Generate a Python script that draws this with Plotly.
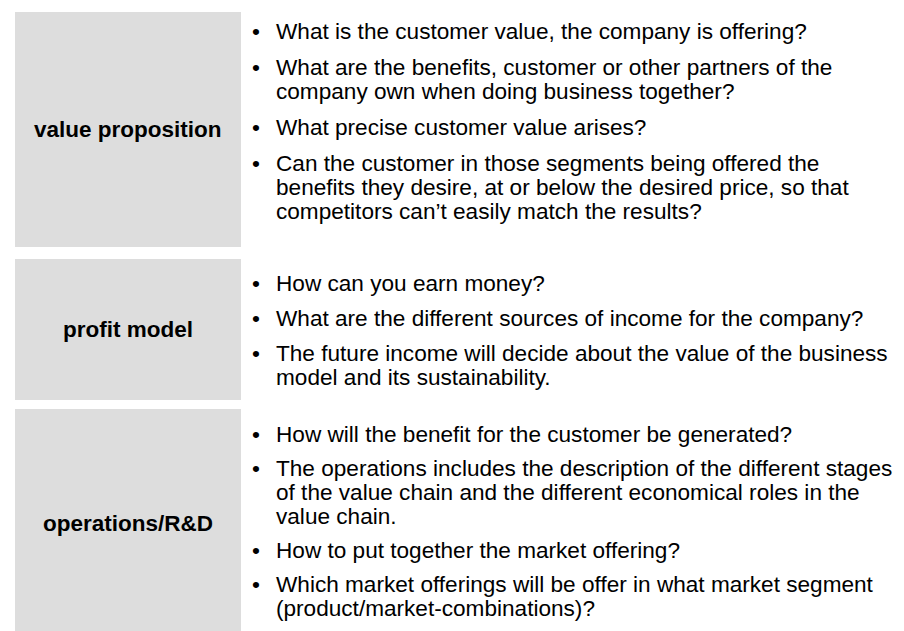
import plotly.graph_objects as go

# ---- data (text content) ----
row_labels = ["value proposition", "profit model", "operations/R&D"]

row1_bullets = [
    ["What is the customer value, the company is offering?"],
    ["What are the benefits, customer or other partners of the",
     "company own when doing business together?"],
    ["What precise customer value arises?"],
    ["Can the customer in those segments being offered the",
     "benefits they desire, at or below the desired price, so that",
     "competitors can\u2019t easily match the results?"],
]
row2_bullets = [
    ["How can you earn money?"],
    ["What are the different sources of income for the company?"],
    ["The future income will decide about the value of the business",
     "model and its sustainability."],
]
row3_bullets = [
    ["How will the benefit for the customer be generated?"],
    ["The operations includes the description of the different stages",
     "of the value chain and the different economical roles in the",
     "value chain."],
    ["How to put together the market offering?"],
    ["Which market offerings will be offer in what market segment",
     "(product/market-combinations)?"],
]
rows_bullets = [row1_bullets, row2_bullets, row3_bullets]

# ---- layout geometry (pixels) ----
W, H = 904, 631
box_x0, box_x1 = 7, 233
box_y = [(4, 239), (251, 392), (401, 630)]
first_line_y = [23, 275, 426]
para_step = [36, 35, 34]
wrap_step = 24
bullet_x = 248
text_x = 266
FONT = "Liberation Sans, Arial, sans-serif"
FS = 22.6

fig = go.Figure()
shapes = []
annotations = []

for i, label in enumerate(row_labels):
    y0, y1 = box_y[i]
    shapes.append(dict(type="rect", xref="x", yref="y",
                       x0=box_x0, x1=box_x1, y0=y0, y1=y1,
                       fillcolor="#DDDDDD", line=dict(width=0), layer="below"))
    annotations.append(dict(x=(box_x0 + box_x1) / 2, y=(y0 + y1) / 2,
                            xref="x", yref="y", text="<b>" + label + "</b>",
                            showarrow=False, xanchor="center", yanchor="middle",
                            font=dict(family=FONT, size=22.5, color="#000000")))
    y = first_line_y[i]
    for bi, bullet in enumerate(rows_bullets[i]):
        if bi > 0:
            y += para_step[i]
        annotations.append(dict(x=bullet_x, y=y, xref="x", yref="y", text="\u2022",
                                showarrow=False, xanchor="center", yanchor="middle",
                                font=dict(family=FONT, size=FS, color="#000000")))
        for li, line in enumerate(bullet):
            if li > 0:
                y += wrap_step
            annotations.append(dict(x=text_x, y=y, xref="x", yref="y", text=line,
                                    showarrow=False, xanchor="left", yanchor="middle",
                                    font=dict(family=FONT, size=FS, color="#000000")))

fig.update_layout(
    width=W, height=H,
    margin=dict(l=0, r=0, t=0, b=0),
    paper_bgcolor="#FFFFFF", plot_bgcolor="#FFFFFF",
    shapes=shapes, annotations=annotations,
    xaxis=dict(range=[0, W], visible=False, fixedrange=True),
    yaxis=dict(range=[H, 0], visible=False, fixedrange=True),
    showlegend=False,
)
fig.write_html("out.html")
